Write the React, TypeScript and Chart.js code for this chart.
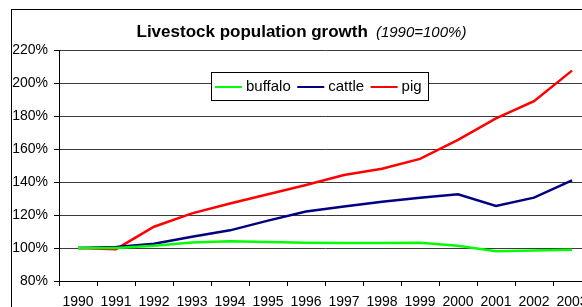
import React, { useEffect, useRef } from "react";
import { Chart, registerables } from "chart.js";

Chart.register(...registerables);

const years = ["1990", "1991", "1992", "1993", "1994", "1995", "1996", "1997", "1998", "1999", "2000", "2001", "2002", "2003"];
const buffalo = [100, 100, 101.4, 103.3, 104.1, 103.6, 103.2, 103.1, 103.1, 103.2, 101.3, 98, 98.5, 99];
const cattle = [100, 100.6, 102.6, 106.8, 110.7, 116.6, 122.1, 125.2, 128, 130.5, 132.6, 125.5, 130.5, 141];
const pig = [100, 99.3, 112.9, 121, 127, 132.6, 138.2, 144.2, 148, 154, 165.5, 178.5, 189, 207.5];

const seriesNames = ["buffalo", "cattle", "pig"];
const seriesColors = ["#00ff00", "#000080", "#ff0000"];

const yMin = 80;
const yMax = 220;
const yStep = 20;

const titleMain = "Livestock population growth";
const titleNote = "(1990=100%)";

const FONT = "Arial, 'Liberation Sans', sans-serif";
const W = 630;
const H = 340;

export default function App() {
  const ref = useRef<HTMLCanvasElement>(null);

  useEffect(() => {
    const canvas = ref.current;
    if (!canvas) return;

    const decor = {
      id: "decor",
      beforeDraw(chart: any) {
        const ctx = chart.ctx;
        ctx.save();
        ctx.fillStyle = "#ffffff";
        ctx.fillRect(0, 0, chart.width, chart.height);
        ctx.strokeStyle = "#000000";
        ctx.lineWidth = 1;
        ctx.strokeRect(11.5, 9.5, chart.width, chart.height);
        // title
        ctx.fillStyle = "#000000";
        ctx.textBaseline = "alphabetic";
        ctx.textAlign = "left";
        ctx.font = "bold 17px " + FONT;
        const x0 = 136.5;
        ctx.fillText(titleMain, x0, 37);
        const w = ctx.measureText(titleMain).width;
        ctx.font = "italic 15px " + FONT;
        ctx.fillText(titleNote, x0 + w + 8, 37);
        ctx.restore();
      },
      afterDraw(chart: any) {
        const ctx = chart.ctx;
        ctx.save();
        const bx = 211.5, by = 72.5, bw = 217, bh = 28;
        ctx.fillStyle = "#ffffff";
        ctx.fillRect(bx, by, bw, bh);
        ctx.strokeStyle = "#000000";
        ctx.lineWidth = 1;
        ctx.strokeRect(bx, by, bw, bh);
        ctx.font = "15px " + FONT;
        ctx.textBaseline = "middle";
        ctx.textAlign = "left";
        let x = 215;
        const ly = 87;
        chart.data.datasets.forEach((ds: any) => {
          ctx.strokeStyle = ds.borderColor;
          ctx.lineWidth = 2;
          ctx.beginPath();
          ctx.moveTo(x, ly);
          ctx.lineTo(x + 27, ly);
          ctx.stroke();
          ctx.fillStyle = "#000000";
          ctx.fillText(ds.label, x + 31, 86.5);
          x += 31 + ctx.measureText(ds.label).width + 6.5;
        });
        ctx.restore();
      },
    };

    const seriesData = [buffalo, cattle, pig];

    const chart = new Chart(canvas, {
      type: "line",
      data: {
        labels: years,
        datasets: seriesNames.map((name, i) => ({
          label: name,
          data: seriesData[i],
          borderColor: seriesColors[i],
          backgroundColor: seriesColors[i],
          borderWidth: 2.5,
          pointRadius: 0,
          tension: 0,
          fill: false,
        })),
      },
      options: {
        responsive: false,
        animation: false,
        devicePixelRatio: 1,
        layout: { padding: { top: 50, right: W - 591, left: 0, bottom: 0 } },
        plugins: {
          legend: { display: false },
          title: { display: false },
          tooltip: { enabled: false },
        },
        scales: {
          x: {
            offset: true,
            grid: {
              display: true,
              drawOnChartArea: false,
              drawTicks: true,
              tickLength: 5,
              tickColor: "#000000",
              offset: true,
            },
            border: { display: true, color: "#000000", width: 1 },
            ticks: {
              color: "#000000",
              font: { family: FONT, size: 14 },
              padding: 8,
              maxRotation: 0,
              autoSkip: false,
            },
            afterFit(scale: any) {
              scale.height = H - 281;
            },
          },
          y: {
            min: yMin,
            max: yMax,
            grid: {
              color: "#3a3a3a",
              lineWidth: 1,
              drawTicks: true,
              tickLength: 5,
              tickColor: "#000000",
            },
            border: { display: true, color: "#000000", width: 1 },
            ticks: {
              stepSize: yStep,
              color: "#000000",
              font: { family: FONT, size: 14 },
              padding: 6,
              callback: (v: any) => v + "%",
            },
            afterFit(scale: any) {
              scale.width = 59;
            },
          },
        },
      },
      plugins: [decor],
    });

    return () => chart.destroy();
  }, []);

  return (
    <div
      style={{
        position: "fixed",
        left: 0,
        top: 0,
        width: 582,
        height: 307,
        overflow: "hidden",
        background: "#ffffff",
      }}
    >
      <canvas
        ref={ref}
        width={W}
        height={H}
        style={{ position: "absolute", left: 0, top: 0, width: W, height: H }}
      />
    </div>
  );
}
